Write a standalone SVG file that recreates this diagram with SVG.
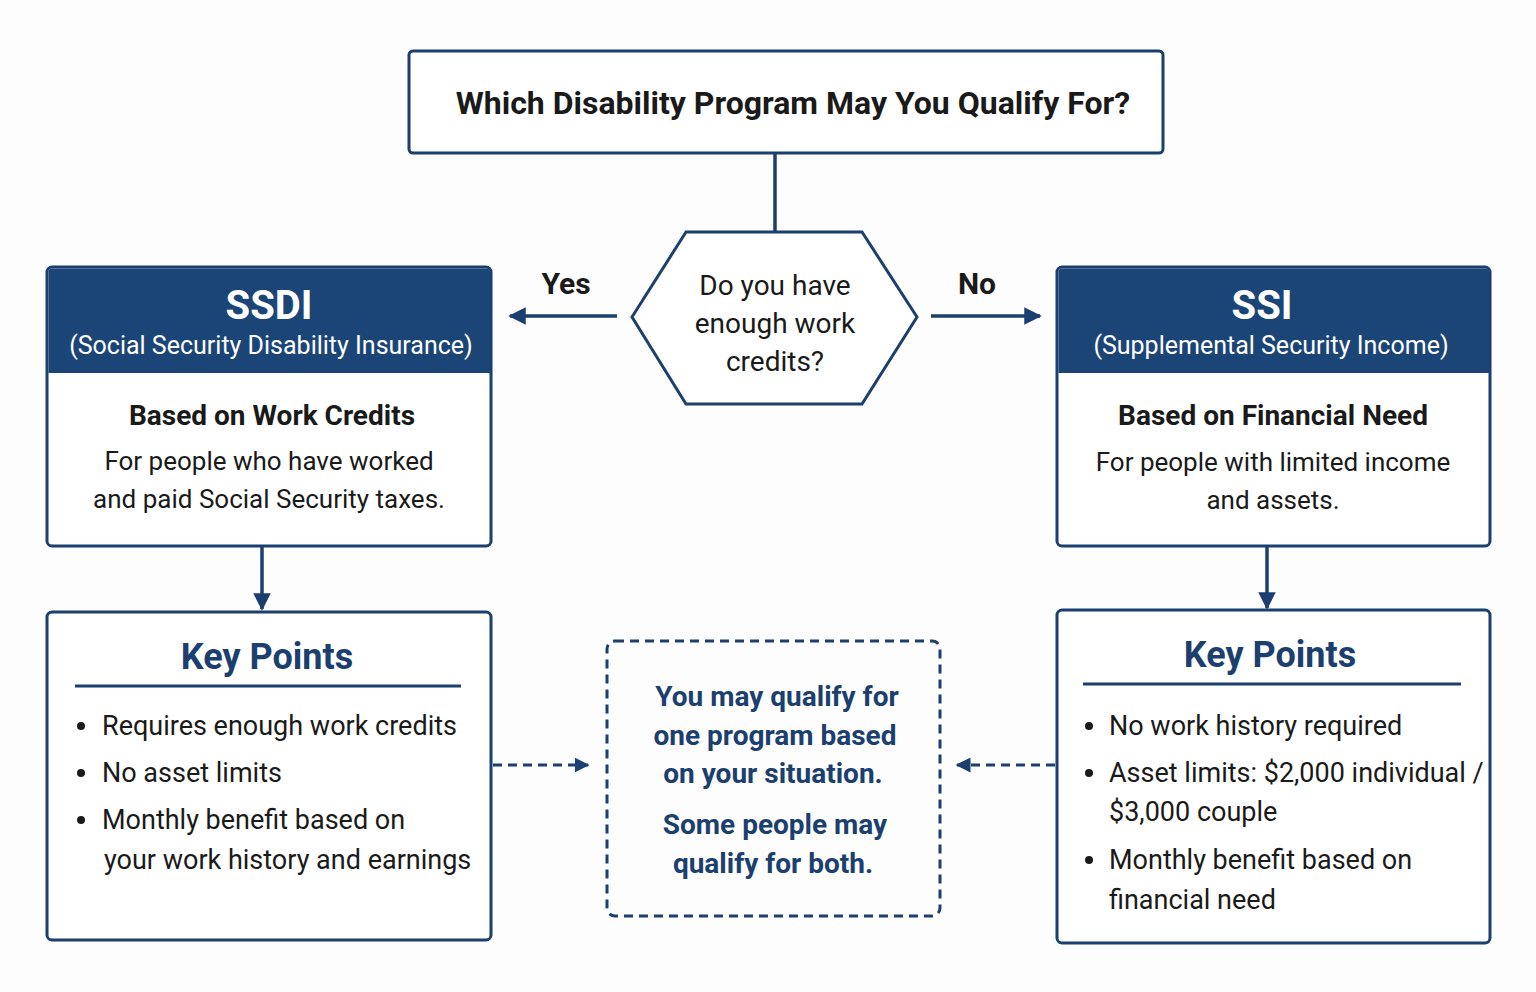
<svg xmlns="http://www.w3.org/2000/svg" width="1536" height="992" viewBox="0 0 1536 992">
<style>
text{font-family:Roboto,"Liberation Sans",sans-serif;fill:#1a1a1a;text-anchor:middle}
.box{fill:#fff;stroke:#1b3f6e;stroke-width:3}
.hdr{fill:#1b4577}
.w{fill:#fff}
.nv{fill:#1b3f6e;font-weight:bold}
.ln{stroke:#1b3f6e;stroke-width:3.5;fill:none}
.ds{stroke:#1b3f6e;stroke-width:3;fill:none;stroke-dasharray:9 6}
.bl{text-anchor:start;font-size:27px}
</style>
<defs>
<marker id="ah" viewBox="0 0 10 10" refX="9" refY="5" markerWidth="5" markerHeight="5" orient="auto"><path d="M0,0L10,5L0,10z" fill="#1b3f6e"/></marker>
</defs>
<rect width="1536" height="992" fill="#fdfdfd"/>
<g id="connectors">
<line class="ln" x1="775" y1="153" x2="775" y2="232"/>
<line class="ln" x1="617" y1="316" x2="510" y2="316" marker-end="url(#ah)"/>
<line class="ln" x1="931" y1="316" x2="1040" y2="316" marker-end="url(#ah)"/>
<line class="ln" x1="262" y1="546" x2="262" y2="609" marker-end="url(#ah)"/>
<line class="ln" x1="1267" y1="546" x2="1267" y2="608" marker-end="url(#ah)"/>
<line class="ds" x1="493" y1="765" x2="588" y2="765" marker-end="url(#ah)"/>
<line class="ds" x1="1055" y1="765" x2="957" y2="765" marker-end="url(#ah)"/>
<text x="566" y="294" font-size="30" font-weight="bold">Yes</text>
<text x="977" y="294" font-size="30" font-weight="bold">No</text>
</g>
<g id="title">
<rect class="box" x="409" y="51" width="754" height="102" rx="4"/>
<text x="793" y="114" font-size="32" font-weight="bold">Which Disability Program May You Qualify For?</text>
</g>
<g id="question">
<polygon class="box" points="632,317 686,232 862,232 917,317 862,404 686,404"/>
<text x="775" y="295" font-size="28">Do you have</text>
<text x="775" y="333" font-size="28">enough work</text>
<text x="775" y="371" font-size="28">credits?</text>
</g>
<g id="ssdi">
<rect class="box" x="47" y="267" width="444" height="279" rx="5"/>
<path class="hdr" d="M52,268.5h434a4,4 0 0 1 4,4V373H48.5V272.5a4,4 0 0 1 4,-4z"/>
<text class="w" x="269" y="319" font-size="40" font-weight="bold" style="fill:#fff">SSDI</text>
<text x="271" y="354" font-size="25" style="fill:#fff">(Social Security Disability Insurance)</text>
<text x="272" y="425" font-size="28" font-weight="bold">Based on Work Credits</text>
<text x="269" y="470" font-size="26">For people who have worked</text>
<text x="269" y="508" font-size="26">and paid Social Security taxes.</text>
</g>
<g id="ssi">
<rect class="box" x="1057" y="267" width="433" height="279" rx="5"/>
<path class="hdr" d="M1062,268.5h423a4,4 0 0 1 4,4V373H1058.5V272.5a4,4 0 0 1 4,-4z"/>
<text x="1262" y="319" font-size="40" font-weight="bold" style="fill:#fff">SSI</text>
<text x="1271" y="354" font-size="25" style="fill:#fff">(Supplemental Security Income)</text>
<text x="1273" y="425" font-size="28" font-weight="bold">Based on Financial Need</text>
<text x="1273" y="471" font-size="26">For people with limited income</text>
<text x="1273" y="509" font-size="26">and assets.</text>
</g>
<g id="ssdi-points">
<rect class="box" x="47" y="612" width="444" height="328" rx="5"/>
<text class="nv" x="267" y="669" font-size="36">Key Points</text>
<line x1="75" y1="686" x2="461" y2="686" stroke="#1b3f6e" stroke-width="3"/>
<circle cx="81" cy="726" r="4" fill="#1a1a1a"/><text class="bl" x="102" y="735">Requires enough work credits</text>
<circle cx="81" cy="773" r="4" fill="#1a1a1a"/><text class="bl" x="102" y="782">No asset limits</text>
<circle cx="81" cy="820" r="4" fill="#1a1a1a"/><text class="bl" x="102" y="829">Monthly benefit based on</text>
<text class="bl" x="104" y="869">your work history and earnings</text>
</g>
<g id="ssi-points">
<rect class="box" x="1057" y="610" width="433" height="333" rx="5"/>
<text class="nv" x="1270" y="667" font-size="36">Key Points</text>
<line x1="1083" y1="684" x2="1461" y2="684" stroke="#1b3f6e" stroke-width="3"/>
<circle cx="1089" cy="726" r="4" fill="#1a1a1a"/><text class="bl" x="1109" y="735">No work history required</text>
<circle cx="1089" cy="773" r="4" fill="#1a1a1a"/><text class="bl" x="1109" y="782">Asset limits: $2,000 individual /</text>
<text class="bl" x="1109" y="821">$3,000 couple</text>
<circle cx="1089" cy="860" r="4" fill="#1a1a1a"/><text class="bl" x="1109" y="869">Monthly benefit based on</text>
<text class="bl" x="1109" y="909">financial need</text>
</g>
<g id="note">
<rect class="ds" x="607" y="641" width="333" height="275" rx="8"/>
<text class="nv" x="777" y="706" font-size="28">You may qualify for</text>
<text class="nv" x="775" y="745" font-size="28">one program based</text>
<text class="nv" x="773" y="783" font-size="28">on your situation.</text>
<text class="nv" x="775" y="834" font-size="28">Some people may</text>
<text class="nv" x="773" y="873" font-size="28">qualify for both.</text>
</g>
</svg>
